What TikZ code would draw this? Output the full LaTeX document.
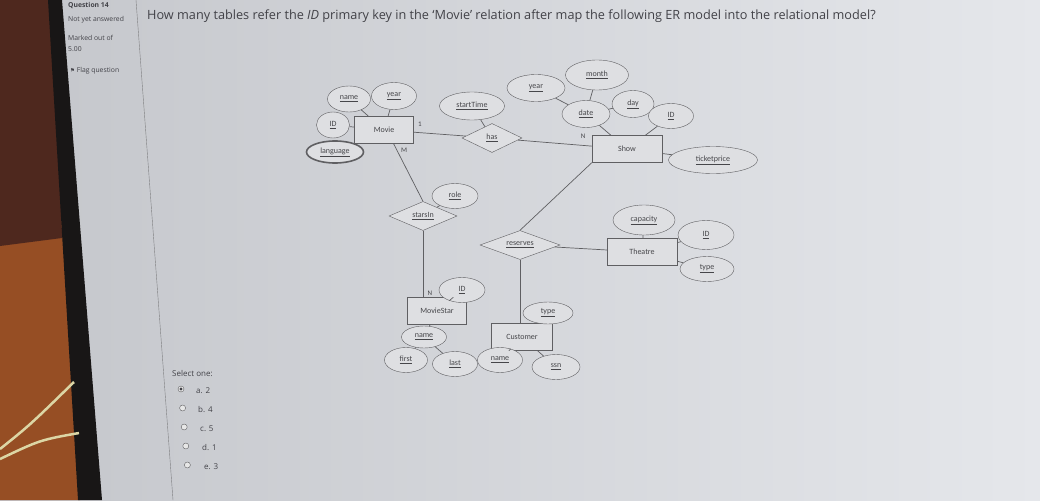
\documentclass[tikz,border=0pt]{standalone}
\usepackage{fontspec}
\setmainfont{Open Sans}
\newfontfamily\erfont{Carlito}
\newfontfamily\symfont{DejaVu Sans}
\usetikzlibrary{shapes.geometric}

\definecolor{screenL}{RGB}{196,198,203}
\definecolor{screenR}{RGB}{229,231,235}
\definecolor{wood}{RGB}{150,78,36}
\definecolor{wooddark}{RGB}{78,40,30}
\definecolor{bezel}{RGB}{24,22,22}
\definecolor{cable}{RGB}{220,214,165}
\definecolor{erline}{RGB}{95,95,98}
\definecolor{erfill}{RGB}{222,223,226}
\definecolor{ertext}{RGB}{70,70,74}
\definecolor{qtext}{RGB}{66,66,72}

\tikzset{
  ent/.style={rectangle, draw=erline, fill=erfill, minimum width=#1, minimum height=27, inner sep=0pt, font=\erfont\fontsize{8}{9}\selectfont, text=ertext},
  attr/.style={ellipse, draw=erline, fill=erfill, minimum width=#1, minimum height=25, inner sep=0pt, font=\erfont\fontsize{8}{9}\selectfont, text=ertext},
  rel/.style={diamond, draw=erline, fill=erfill, aspect=2.4, minimum width=#1, minimum height=29, inner sep=0pt, font=\erfont\fontsize{8}{9}\selectfont, text=ertext},
  card/.style={inner sep=0pt, font=\erfont\fontsize{7}{8}\selectfont, text=ertext},
  side/.style={anchor=west, inner sep=0pt, font=\fontsize{6.8}{8}\selectfont, text=qtext},
  opt/.style={anchor=west, inner sep=0pt, font=\fontsize{8}{9}\selectfont, text=qtext},
  edge/.style={draw=erline, line width=0.7pt}
}

\begin{document}
\begin{tikzpicture}[x=1pt,y=-1pt]
\useasboundingbox (0,0) rectangle (1040,500);
% screen, desk and bezel
\shade[left color=screenL, right color=screenR] (0,0) rectangle (1040,500);
\fill[wood] (0,0) -- (56,0) -- (80,500) -- (0,500) -- cycle;
\fill[wooddark] (0,0) -- (56,0) -- (62,238) -- (0,246) -- cycle;
\fill[bezel] (48,0) -- (62,0) -- (102,500) -- (78,500) -- cycle;
\draw[cable, line width=2.5pt] (0,449) .. controls (30,425) .. (74,382);
\draw[cable, line width=2.5pt] (0,459) .. controls (40,440) .. (79,433);
\draw[erline!80] (136,0) -- (173,500);

% side panel
\node[side, font=\bfseries\fontsize{6.8}{8}\selectfont] (qnum) at (68,5) {Question 14};
\node[side] (status) at (68,20) {Not yet answered};
\node[side] (marked) at (68,38) {Marked out of};
\node[side] (mark) at (68,49) {5.00};
\node[side] (flag) at (70,71) {{\symfont\fontsize{5.5}{6}\selectfont ⚑} Flag question};

% question
\node[anchor=west, inner sep=0pt, font=\fontsize{12.7}{14}\selectfont, text=qtext] (question) at (147,16)
  {How many tables refer the \textit{ID} primary key in the `Movie' relation after map the following ER model into the relational model?};

% answers
\node[opt] (select) at (172,374) {Select one:};
\foreach \i/\l in {0/a. 2, 1/b. 4, 2/c. 5, 3/d. 1, 4/e. 3} % edit here for the options
{
  \draw[erline, fill=white!85!erline] (181+1.6*\i, 389+19*\i) circle (3pt);
  \node[opt] (opt\i) at (196+2*\i, 391+19*\i) {\l};
}
\fill[qtext] (181,389) circle (1.6pt);

% entities
\node[ent=59] (movie) at (384,130) {Movie};
\node[ent=70] (show) at (627,149) {Show};
\node[ent=70] (theatre) at (642,252) {Theatre};
\node[ent=59] (moviestar) at (437,311) {MovieStar};
\node[ent=61] (customer) at (522,337) {Customer};

% relationships
\node[rel=60] (has) at (492,138) {\underline{has}};
\node[rel=68] (starsin) at (423,216) {\underline{starsIn}};
\node[rel=80] (reserves) at (520,245) {\underline{reserves}};

% attributes
\node[attr=43, minimum height=26] (mname) at (349,99) {\underline{name}};
\node[attr=45, minimum height=27] (myear) at (394,96) {\underline{year}};
\node[attr=33, minimum height=26] (mid) at (333,125) {\underline{ID}};
\node[attr=57, minimum height=22, line width=1.6pt] (lang) at (335,152) {\underline{language}};
\node[attr=65, minimum height=28] (starttime) at (472,106) {\underline{startTime}};
\node[attr=58, minimum height=27] (dyear) at (536,88) {\underline{year}};
\node[attr=63, minimum height=30] (month) at (597,75) {\underline{month}};
\node[attr=48, minimum height=27] (date) at (586,114) {\underline{date}};
\node[attr=42, minimum height=27] (day) at (633,104) {\underline{day}};
\node[attr=45] (sid) at (671,116) {\underline{ID}};
\node[attr=89, minimum height=27] (ticket) at (713,160) {\underline{ticketprice}};
\node[attr=46] (role) at (455,196) {\underline{role}};
\node[attr=62, minimum height=30] (capacity) at (644,220) {\underline{capacity}};
\node[attr=56, minimum height=29] (tid) at (706,235) {\underline{ID}};
\node[attr=54] (ttype) at (707,269) {\underline{type}};
\node[attr=46] (msid) at (462,290) {\underline{ID}};
\node[attr=45, minimum height=22] (msname) at (424,337) {\underline{name}};
\node[attr=43] (first) at (406,360) {\underline{first}};
\node[attr=45] (last) at (455,364) {\underline{last}};
\node[attr=50, minimum height=22] (ctype) at (548,313) {\underline{type}};
\node[attr=45] (cname) at (500,360) {\underline{name}};
\node[attr=48] (ssn) at (556,367) {\underline{ssn}};

% cardinalities
\node[card] (one) at (420,124) {1};
\node[card] (many) at (404,150) {M};
\node[card] (nshow) at (583,136) {N};
\node[card] (nstar) at (430,293) {N};

% connectors
\foreach \a/\b in {movie/mname, movie/myear, movie/mid, movie/lang, movie/has,
  has/starttime, has/show, show/date, date/dyear, date/month, date/day,
  show/sid, show/ticket, starsin/role, reserves/theatre, theatre/capacity,
  theatre/tid, theatre/ttype, moviestar/msid, moviestar/msname,
  msname/first, msname/last, customer/ctype, customer/cname, customer/ssn}
  \path[edge] (\a) -- (\b);
\path[edge] (movie.-55) -- (starsin.north);
\path[edge] (starsin.south) -- (starsin.south |- moviestar.north);
\path[edge] (show.south west) -- (reserves.north);
\path[edge] (reserves.south) -- (reserves.south |- customer.north);
\end{tikzpicture}
\end{document}
